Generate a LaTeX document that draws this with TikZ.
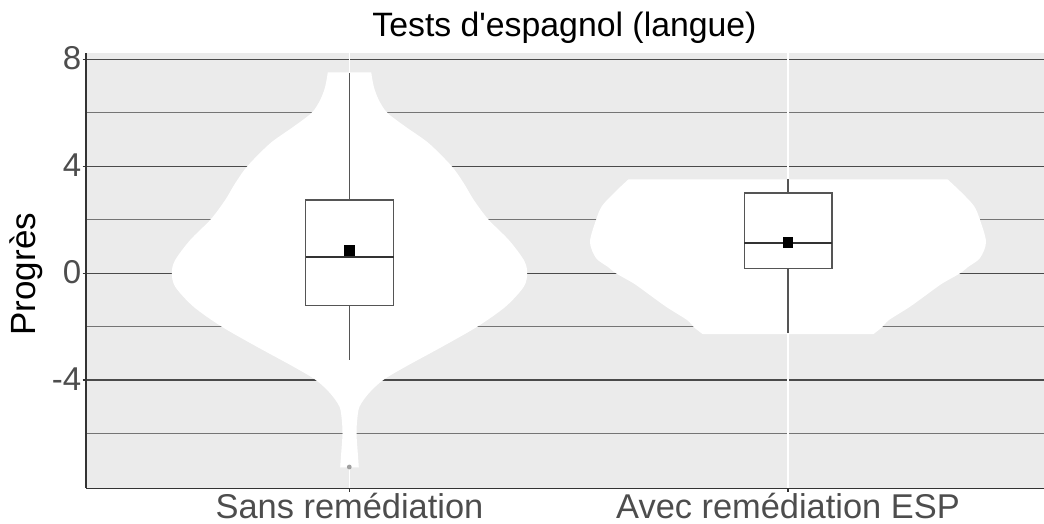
\documentclass[tikz,border=0pt]{standalone}
\usepackage{fontspec}
\setmainfont{Liberation Sans}[Ligatures=TeXOff]
\definecolor{panelbg}{HTML}{EBEBEB}
\definecolor{gridmaj}{HTML}{4A4A4A}
\definecolor{gridmin}{HTML}{747474}
\definecolor{axisc}{HTML}{333333}
\definecolor{ticktext}{HTML}{4D4D4D}
\definecolor{boxc}{HTML}{555555}
\definecolor{outl}{HTML}{A0A0A0}
\begin{document}
\begin{tikzpicture}[x=1pt,y=-1pt,
  gridmajor/.style={draw=gridmaj,line width=1.2pt},
  gridminor/.style={draw=gridmin,line width=0.9pt},
  vgrid/.style={draw=white,line width=1.1pt},
  violin/.style={fill=white},
  boxline/.style={draw=boxc,line width=1.1pt,fill=white},
  whisk/.style={draw=boxc,line width=1.1pt},
  medianline/.style={draw=axisc,line width=2.2pt},
  meanpt/.style={fill=black},
  axisline/.style={draw=axisc,line width=1.1pt},
  ticklab/.style={text=ticktext,inner sep=0pt,anchor=east,font=\fontsize{33}{38}\selectfont},
  xlab/.style={text=ticktext,inner sep=0pt,anchor=base,font=\fontsize{34.4}{40}\selectfont},
]
\useasboundingbox (0,0) rectangle (1044,524);
% panel
\fill[panelbg] (86,53.3) rectangle (1044,488.3);
% grid
\foreach \y in {112.8,219.7,326.5,433.4} \draw[gridminor] (86,\y) -- (1044,\y);
\foreach \y in {59.3,166.2,273.1,380} \draw[gridmajor] (86,\y) -- (1044,\y);
\foreach \x in {349.5,788} \draw[vgrid] (\x,53.3) -- (\x,488.3);

% left violin
\begin{scope}[shift={(349.5,0)}]
\fill[violin] (-21.7,72.3) -- plot[smooth,tension=0.5] coordinates {
 (21.7,72.3) (24.3,86.7) (29.3,100) (37.7,112.7) (56,126.7) (79.3,143.3) (102,166)
 (114.3,183.3) (124.3,200) (138.7,219.3) (159.3,240) (174.3,260) (177.7,272.7)
 (174.3,286.7) (156,306.7) (127.7,326.7) (92.7,346.7) (56,366.7) (33.7,380)
 (19.3,393.3) (10,406.7) (7.7,420) (7,434) (8.3,453.3) (9.3,467.3)}
 -- plot[smooth,tension=0.5] coordinates {
 (-9.3,467.3) (-8.3,453.3) (-7,434) (-7.7,420) (-10,406.7) (-19.3,393.3) (-33.7,380)
 (-56,366.7) (-92.7,346.7) (-127.7,326.7) (-156,306.7) (-174.3,286.7) (-177.7,272.7)
 (-174.3,260) (-159.3,240) (-138.7,219.3) (-124.3,200) (-114.3,183.3) (-102,166)
 (-79.3,143.3) (-56,126.7) (-37.7,112.7) (-29.3,100) (-24.3,86.7) (-21.7,72.3)} -- cycle;
\end{scope}

% right violin
\begin{scope}[shift={(788,0)}]
\fill[violin] (-159.5,179.3) -- plot[smooth,tension=0.5] coordinates {
 (159.5,179.3) (173,192) (186,206) (192,220) (198,242) (192,258) (180,267)
 (172,273.3) (155,283) (145,290) (122,306.7) (101,320) (94,327.3) (85.5,334)}
 -- plot[smooth,tension=0.5] coordinates {
 (-85.5,334) (-94,327.3) (-101,320) (-122,306.7) (-145,290) (-155,283) (-172,273.3)
 (-180,267) (-192,258) (-198,242) (-192,220) (-186,206) (-173,192) (-159.5,179.3)} -- cycle;
\end{scope}

% left boxplot
\draw[whisk] (349.5,200) -- (349.5,73.3);
\draw[whisk] (349.5,305.3) -- (349.5,360);
\draw[boxline] (305.5,200) rectangle (393.5,305.3);
\draw[medianline] (305.5,256.8) -- (393.5,256.8);
\fill[meanpt] (344.25,245.25) rectangle (354.75,255.75);
\fill[outl] (349.3,467) circle (2.4);

% right boxplot
\draw[whisk] (788,193) -- (788,179.3);
\draw[whisk] (788,268.3) -- (788,333.3);
\draw[boxline] (744.3,193) rectangle (832,268.3);
\draw[medianline] (744.3,243.3) -- (832,243.3);
\fill[meanpt] (782.65,236.85) rectangle (793.35,247.55);

% axes
\draw[axisline] (86,53.3) -- (86,488.3);
\draw[axisline] (86,488.3) -- (1044,488.3);
\foreach \y in {59.3,166.2,273.1,380} \draw[axisline] (82.5,\y) -- (86,\y);
\foreach \x in {349.5,788} \draw[axisline] (\x,488.3) -- (\x,491.8);

% labels
\node[ticklab] (t8) at (81.5,58) {8};
\node[ticklab] (t4) at (81.5,165) {4};
\node[ticklab] (t0) at (81.5,272) {0};
\node[ticklab] (tm4) at (81.5,379) {-4};
\node[xlab] (xl1) at (349.5,518.5) {Sans remédiation};
\node[xlab] (xl2) at (788,518.5) {Avec remédiation ESP};
\node[inner sep=0pt,anchor=base,font=\fontsize{33.8}{40}\selectfont] (title) at (564.5,36.7) {Tests d'espagnol (langue)};
\node[inner sep=0pt,anchor=base,rotate=90,font=\fontsize{35}{40}\selectfont] (ylab) at (35,274.2) {Progrès};
\end{tikzpicture}
\end{document}
